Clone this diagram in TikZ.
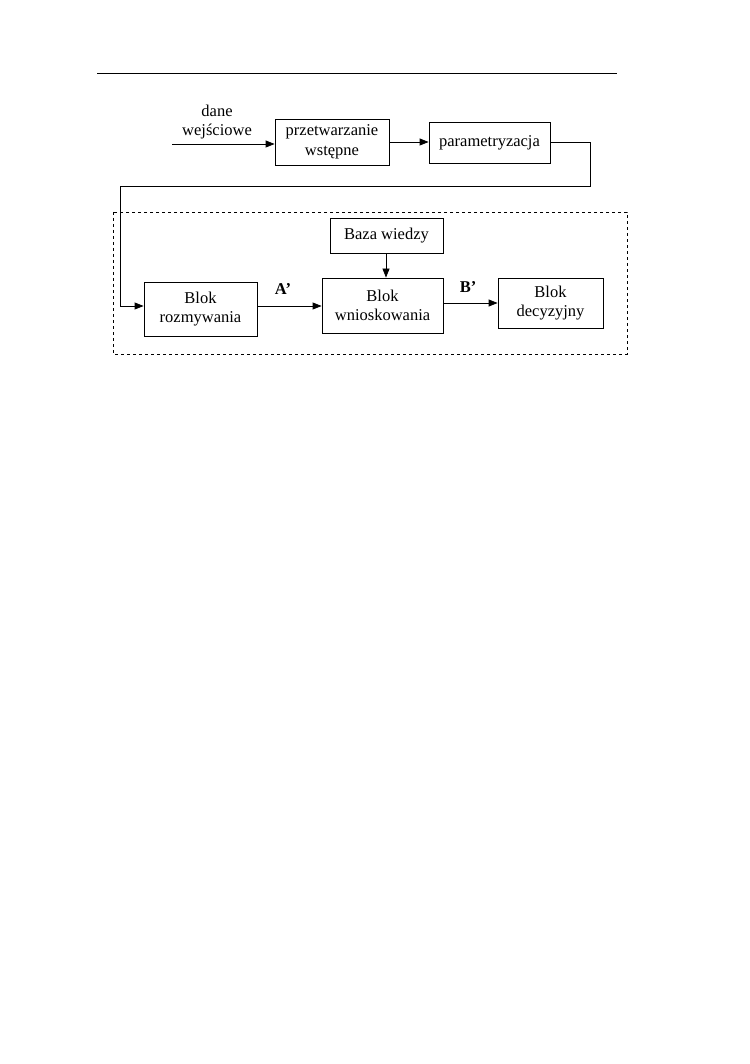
\documentclass[tikz,border=0pt]{standalone}
\usepackage{fontspec}
\setmainfont{Liberation Serif}
\usetikzlibrary{arrows.meta}
\begin{document}
\begin{tikzpicture}[x=1pt,y=-1pt,
  blk/.style={draw,line width=0.8pt,inner sep=0pt,align=center,font=\fontsize{16.5}{19.5}\selectfont},
  conn/.style={line width=0.8pt},
  arr/.style={conn,-{Triangle[length=9pt,width=7pt]}},
  lbl/.style={inner sep=0pt,align=center,font=\fontsize{16.5}{18.5}\selectfont}]
\useasboundingbox (0,0) rectangle (749,1064);
\draw[line width=1pt] (97,74) coordinate (r1) -- (617,74) coordinate (r2);
\node[blk,minimum width=114,minimum height=46] (prz) at (332,142) {przetwarzanie\\wstępne};
\node[blk,minimum width=121,minimum height=41] (par) at (489.5,142.5) {parametryzacja};
\node[lbl] (dane) at (217,122) {dane\\wejściowe};
\coordinate (in) at (172,144);
\draw[arr] (in) -- (in -| prz.west);
\draw[arr] (prz.east |- 0,142) -- (par.west |- 0,142);
\draw[dashed,line width=0.8pt] (113,212) coordinate (d1) rectangle (627,354) coordinate (d2);
\node[blk,minimum width=113,minimum height=35] (baza) at (386.5,235.5) {Baza wiedzy};
\node[blk,minimum width=113,minimum height=54] (roz) at (200.5,309) {Blok\\rozmywania};
\node[blk,minimum width=121,minimum height=55] (wni) at (382.5,305.5) {Blok\\wnioskowania};
\node[blk,minimum width=105,minimum height=50] (dec) at (550.5,303) {Blok\\decyzyjny};
\coordinate (c1) at (590,186);
\coordinate (c2) at (120,306);
\draw[arr] (par.east) -- (c1 |- par.east) -- (c1) -- (c2 |- c1) -- (c2) -- (c2 -| roz.west);
\draw[arr] (roz.east |- 0,306) -- (wni.west |- 0,306);
\draw[arr] (baza.south -| 386,0) -- (wni.north -| 386,0);
\draw[arr] (wni.east |- 0,303) -- (dec.west |- 0,303);
\node[lbl,font=\fontsize{16.5}{18.5}\selectfont\bfseries] (A) at (283,289) {A’};
\node[lbl,font=\fontsize{16.5}{18.5}\selectfont\bfseries] (B) at (468,287) {B’};
\end{tikzpicture}
\end{document}
